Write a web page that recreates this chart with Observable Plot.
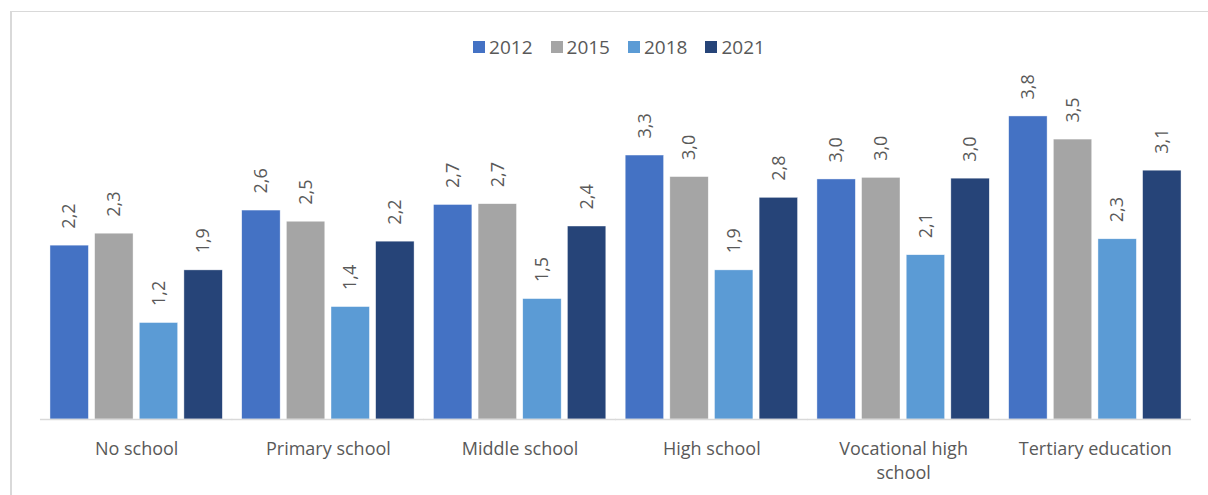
<!DOCTYPE html>
<html>
<head>
<meta charset="utf-8">
<script src="https://cdn.jsdelivr.net/npm/d3@7"></script>
<script src="https://cdn.jsdelivr.net/npm/@observablehq/plot@0.6"></script>
<style>
  html, body { margin: 0; padding: 0; background: #fff; }
  #wrap { position: relative; width: 1208px; height: 495px; overflow: hidden; font-family: "Open Sans", sans-serif; }
  #frame { position: absolute; left: 10px; top: 10.5px; width: 1300px; height: 600px; border-left: 2px solid #d9d9d9; border-top: 1.5px solid #d9d9d9; }
  #legend { position: absolute; top: 34px; left: 15px; width: 1208px; display: flex; justify-content: center; align-items: center; z-index: 2; }
  .item { display: flex; align-items: center; margin: 0 9px; font-size: 19px; color: #595959; line-height: 26px; }
  .sw { width: 12px; height: 12px; margin-right: 4px; display: inline-block; }
  #chart { position: absolute; left: 0; top: 0; }
</style>
</head>
<body>
<div id="wrap">
  <div id="frame"></div>
  <div id="legend"></div>
  <div id="chart"></div>
</div>
<script>
const categories = ["No school", "Primary school", "Middle school", "High school", "Vocational high school", "Tertiary education"];
const categoryLabels = ["No school", "Primary school", "Middle school", "High school", "Vocational high\nschool", "Tertiary education"];
const years = ["2012", "2015", "2018", "2021"];
const colors = ["#4472C4", "#A5A5A5", "#5B9BD5", "#264478"];
const values2012 = [2.18, 2.62, 2.69, 3.31, 3.01, 3.80];
const values2015 = [2.33, 2.48, 2.70, 3.04, 3.03, 3.51];
const values2018 = [1.21, 1.41, 1.51, 1.87, 2.06, 2.26];
const values2021 = [1.87, 2.23, 2.42, 2.78, 3.02, 3.12];

const series = [values2012, values2015, values2018, values2021];
const data = [];
categories.forEach((c, i) => {
  years.forEach((y, j) => data.push({category: c, year: y, value: series[j][i]}));
});
const labelOf = new Map(categories.map((c, i) => [c, categoryLabels[i]]));
const fmt = v => d3.format(".1f")(v).replace(".", ",");

// legend
const legend = document.getElementById("legend");
years.forEach((y, j) => {
  const it = document.createElement("div");
  it.className = "item";
  const sw = document.createElement("span");
  sw.className = "sw";
  sw.style.background = colors[j];
  it.appendChild(sw);
  it.appendChild(document.createTextNode(y));
  legend.appendChild(it);
});

const chart = Plot.plot({
  width: 1208,
  height: 495,
  marginTop: 100,
  marginBottom: 76,
  marginLeft: 40,
  marginRight: 17,
  style: {fontFamily: "Open Sans, sans-serif", color: "#595959", background: "transparent"},
  fx: {domain: categories, paddingInner: 0.101, paddingOuter: 0.052, round: false, label: null},
  x: {domain: years, paddingInner: 0.139, paddingOuter: 0, round: false, axis: null},
  y: {domain: [0, 4], axis: null},
  color: {domain: years, range: colors},
  marks: [
    Plot.barY(data, {fx: "category", x: "year", y: "value", fill: "year", stroke: "#ffffff", strokeWidth: 0.6, strokeOpacity: 0.7}),
    Plot.ruleY([0], {stroke: "#d9d9d9", strokeWidth: 1.5, insetLeft: -10, insetRight: -10}),
    Plot.text(data, {fx: "category", x: "year", y: "value", text: d => fmt(d.value), rotate: -90, textAnchor: "start", dy: -17, fontSize: 18, fill: "#595959"}),
    Plot.axisFx({anchor: "bottom", tickSize: 0, tickPadding: 18, fontSize: 18, lineHeight: 1.35, tickFormat: d => labelOf.get(d), label: null, fill: "#595959"})
  ]
});
document.getElementById("chart").appendChild(chart);
</script>
</body>
</html>
